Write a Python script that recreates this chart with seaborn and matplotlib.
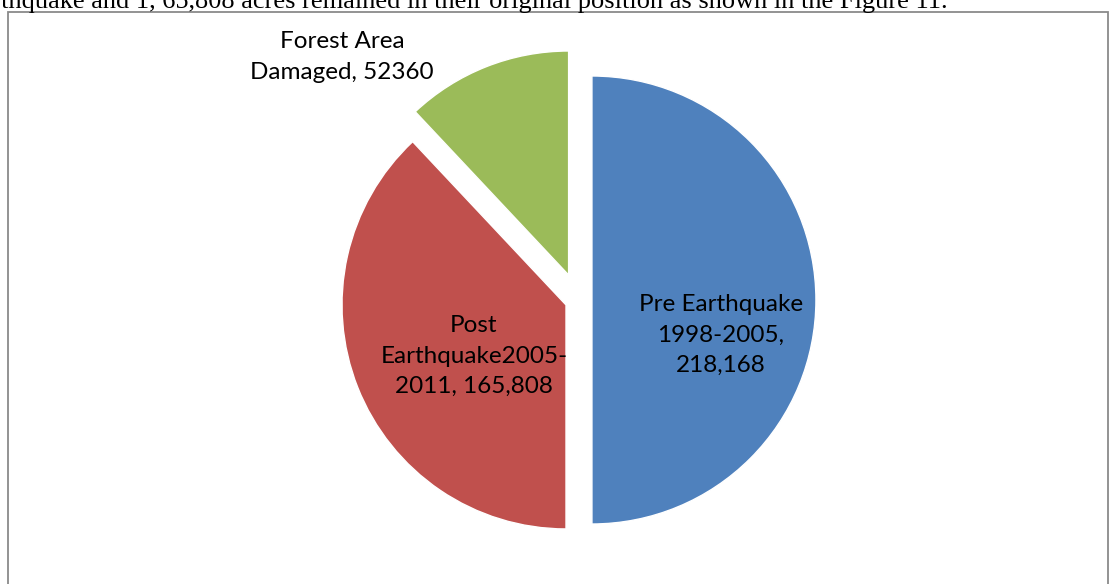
import matplotlib
matplotlib.use("Agg")
import matplotlib.pyplot as plt
import seaborn as sns
from matplotlib.patches import Rectangle

# data
categories = ["Pre Earthquake\n1998-2005,\n218,168",
              "Post\nEarthquake2005-\n2011, 165,808",
              "Forest Area\nDamaged, 52360"]
values = [218168, 165808, 52360]
colors = ["#4F81BD", "#C0504D", "#9BBB59"]
explode = [0.06, 0.06, 0.12]
# label anchor points (pie radius = 1, pie centre at origin)
label_pos = [(0.636, -0.156), (-0.467, -0.25), (-1.056, 1.085)]

caption = "earthquake and 1, 65,808 acres remained in their original position as shown in the Figure 11."

sns.set_theme(style="white")
plt.rcParams['font.family'] = ['Lato', 'DejaVu Sans']

W, H = 1109, 584
cx, cy, R = 578.5, 300, 224  # pixel position and radius of the pie

fig = plt.figure(figsize=(W / 100, H / 100), dpi=100)
ax = fig.add_axes([0, 0, 1, 1])

wedges, _ = ax.pie(values, colors=colors, explode=explode, startangle=90,
                   counterclock=False, radius=1, center=(0, 0), frame=True)
ax.set_xlim(-cx / R, (W - cx) / R)
ax.set_ylim(-(H - cy) / R, cy / R)
ax.axis('off')

for txt, (x, y) in zip(categories, label_pos):
    ax.text(x, y, txt, ha='center', va='center', fontsize=17.5,
            linespacing=1.55, color='black')

# chart area border
fig.patches.append(Rectangle((8 / W, -0.05), 1100 / W, 1.05 - 12 / H,
                             transform=fig.transFigure, fill=False,
                             edgecolor='#8a8a8a', linewidth=1.3))

# the document sentence cut off above the chart
fig.text(948 / W, 1 - 8 / H, caption, ha='right', va='baseline',
         fontsize=19, family=['Liberation Serif'], color='black')

fig.savefig("out.png", dpi=100)
